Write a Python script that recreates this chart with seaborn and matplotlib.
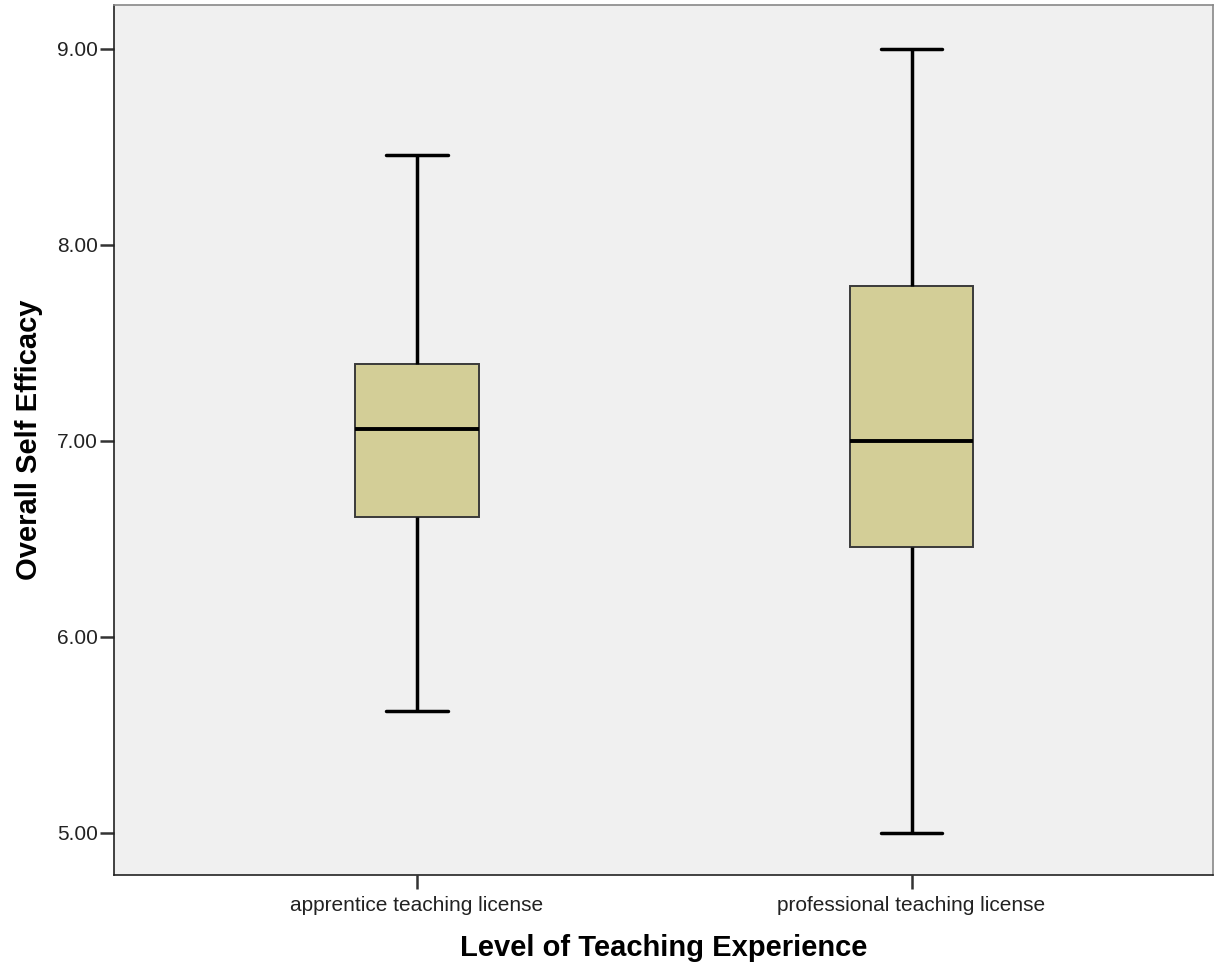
import numpy as np
import pandas as pd
import matplotlib
matplotlib.use("Agg")
import matplotlib.pyplot as plt
import seaborn as sns

# =============================================
# SELF EFFICACY BY TEACHING LICENSE LEVEL
# five-number summaries
# =============================================

groups = ["apprentice teaching license", "professional teaching license"]
apprentice = [5.62, 6.61, 7.06, 7.39, 8.46]
professional = [5.00, 6.46, 7.00, 7.79, 9.00]

df = pd.DataFrame({
    "group": [groups[0]] * len(apprentice) + [groups[1]] * len(professional),
    "efficacy": apprentice + professional,
})

sns.set_theme(style="white")
plt.rcParams["font.family"] = ["Liberation Sans", "DejaVu Sans"]

fig, ax = plt.subplots(figsize=(12.17, 9.72), dpi=100)
fig.subplots_adjust(left=0.094, right=0.997, top=0.995, bottom=0.1)

sns.boxplot(
    data=df, x="group", y="efficacy", ax=ax,
    color="#D3CE97", width=0.25, whis=np.inf,
    linecolor="#222222", linewidth=1.4,
    medianprops={"color": "black", "linewidth": 2.8},
    whiskerprops={"color": "black", "linewidth": 2.5},
    capprops={"color": "black", "linewidth": 2.5},
)
for patch in ax.patches:
    patch.set_facecolor("#D3CE97")
    patch.set_edgecolor("#3a3a3a")

ax.set_facecolor("#F0F0F0")
ax.set_xlim(-0.611, 1.61)
ax.set_ylim(4.785, 9.225)
ax.set_yticks([5, 6, 7, 8, 9])
ax.set_yticklabels([f"{v:.2f}" for v in [5, 6, 7, 8, 9]])

for side in ["left", "bottom", "right", "top"]:
    ax.spines[side].set_visible(True)
    ax.spines[side].set_color("#222222")
    ax.spines[side].set_linewidth(1.2)
ax.spines["top"].set_color("#888888")
ax.spines["right"].set_color("#888888")

ax.tick_params(axis="both", which="both", length=10, width=1.8, color="#333333",
               labelsize=15, labelcolor="#222222", left=True, bottom=True)
ax.tick_params(axis="y", pad=2)
ax.tick_params(axis="x", pad=5)

ax.set_xlabel("Level of Teaching Experience", fontsize=21, fontweight="bold",
              labelpad=14, color="black")
ax.set_ylabel("Overall Self Efficacy", fontsize=21, fontweight="bold",
              labelpad=10, color="black")

fig.savefig("out.png", dpi=100)
